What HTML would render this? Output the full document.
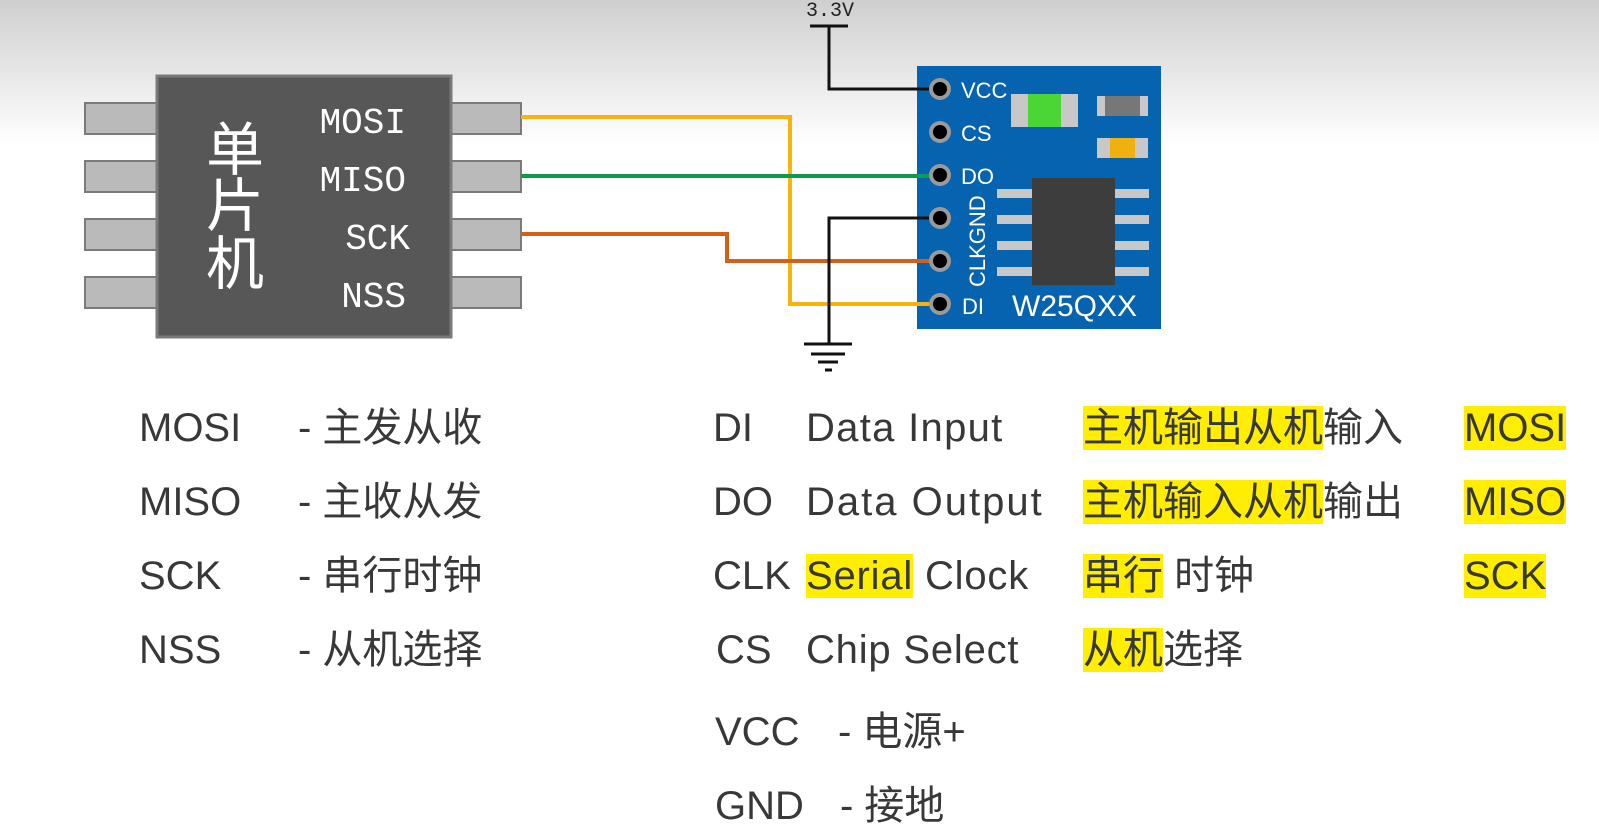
<!DOCTYPE html>
<html><head><meta charset="utf-8"><style>
html,body{margin:0;padding:0}
body{width:1599px;height:830px;position:relative;overflow:hidden;background:linear-gradient(#cfcfcf 0px,#e6e6e6 70px,#fff 145px,#fff 830px);font-family:"Liberation Sans","Noto Sans CJK SC",sans-serif}
.t{position:absolute;font-size:40px;color:#383838;line-height:48px;white-space:nowrap}
.l{letter-spacing:1.3px}
.h{background:#ffee00}
</style></head><body>
<svg width="1599" height="380" style="position:absolute;left:0;top:0">
<g fill="#bababa" stroke="#7a7a7a" stroke-width="2">
<rect x="85" y="103" width="72" height="31"/><rect x="85" y="161" width="72" height="31"/>
<rect x="85" y="219" width="72" height="31"/><rect x="85" y="277" width="72" height="31"/>
<rect x="450" y="103" width="71" height="31"/><rect x="450" y="161" width="71" height="31"/>
<rect x="450" y="219" width="71" height="31"/><rect x="450" y="277" width="71" height="31"/>
</g>
<rect x="157" y="76" width="294" height="261" fill="#575757" stroke="#7a7a7a" stroke-width="3"/>
<text x="235" y="170" fill="#fff" font-size="58" text-anchor="middle" font-family="Noto Sans CJK SC,sans-serif">单</text>
<text x="235" y="226" fill="#fff" font-size="58" text-anchor="middle" font-family="Noto Sans CJK SC,sans-serif">片</text>
<text x="235" y="284" fill="#fff" font-size="58" text-anchor="middle" font-family="Noto Sans CJK SC,sans-serif">机</text>
<g fill="#fff" font-size="36" font-family="Liberation Mono,monospace" text-anchor="end">
<text x="406" y="133">MOSI</text><text x="406" y="191">MISO</text><text x="410" y="249">SCK</text><text x="406" y="307">NSS</text></g>
<rect x="917" y="66" width="244" height="263" fill="#0563b0"/>
<g fill="#c8c8c8"><rect x="1011" y="94" width="67" height="33"/><rect x="1097" y="96" width="51" height="20"/><rect x="1097" y="138" width="51" height="20"/></g>
<rect x="1028" y="94" width="33" height="33" fill="#4cd636"/>
<rect x="1105" y="96" width="35" height="20" fill="#777"/>
<rect x="1110" y="138" width="25" height="20" fill="#f0b010"/>
<g fill="#c8c8c8"><rect x="997" y="189" width="36" height="9"/><rect x="997" y="215" width="36" height="9"/><rect x="997" y="241" width="36" height="9"/><rect x="997" y="267" width="36" height="9"/>
<rect x="1114" y="189" width="35" height="9"/><rect x="1114" y="215" width="35" height="9"/><rect x="1114" y="241" width="35" height="9"/><rect x="1114" y="267" width="35" height="9"/></g>
<rect x="1032" y="178" width="83" height="107" fill="#3d3d3d"/>
<g fill="#fff" font-size="22"><text x="961" y="98">VCC</text><text x="961" y="141">CS</text><text x="961" y="184">DO</text><text x="962" y="314">DI</text></g>
<text transform="translate(985,287) rotate(-90)" fill="#fff" font-size="22">CLKGND</text>
<text x="1012" y="316" fill="#fff" font-size="30">W25QXX</text>
<g fill="none" stroke-width="4">
<polyline points="521,117 790,117 790,304 940,304" stroke="#f8b40c"/>
<polyline points="521,176 940,176" stroke="#0d9a4f"/>
<polyline points="521,234 727,234 727,261 940,261" stroke="#d2601a"/>
</g>
<g fill="none" stroke="#111" stroke-width="3">
<polyline points="810,26 848,26"/><polyline points="829,26 829,89 940,89"/>
<polyline points="940,218 829,218 829,344"/>
<line x1="804" y1="344" x2="852" y2="344"/><line x1="811" y1="354" x2="845" y2="354"/><line x1="818" y1="362" x2="838" y2="362"/><line x1="825" y1="370" x2="832" y2="370"/>
</g>
<text x="806" y="16" font-size="20" fill="#222" font-family="Liberation Mono,monospace">3.3V</text>
<g><circle cx="940" cy="89" r="11" fill="#9a9a9a"/><circle cx="940" cy="132" r="11" fill="#9a9a9a"/><circle cx="940" cy="175" r="11" fill="#9a9a9a"/><circle cx="940" cy="218" r="11" fill="#9a9a9a"/><circle cx="940" cy="261" r="11" fill="#9a9a9a"/><circle cx="940" cy="304" r="11" fill="#9a9a9a"/></g>
<g fill="#000"><circle cx="940" cy="89" r="7"/><circle cx="940" cy="132" r="7"/><circle cx="940" cy="175" r="7"/><circle cx="940" cy="218" r="7"/><circle cx="940" cy="261" r="7"/><circle cx="940" cy="304" r="7"/></g>
</svg>
<div class="t" style="left:139px;top:404px">MOSI</div><div class="t" style="left:298px;top:404px">- 主发从收</div>
<div class="t" style="left:139px;top:478px">MISO</div><div class="t" style="left:298px;top:478px">- 主收从发</div>
<div class="t" style="left:139px;top:552px">SCK</div><div class="t" style="left:298px;top:552px">- 串行时钟</div>
<div class="t" style="left:139px;top:626px">NSS</div><div class="t" style="left:298px;top:626px">- 从机选择</div>
<div class="t" style="left:713px;top:404px">DI</div><div class="t l" style="left:806px;top:404px">Data Input</div>
<div class="t" style="left:713px;top:478px">DO</div><div class="t l" style="left:806px;top:478px;letter-spacing:2px">Data Output</div>
<div class="t" style="left:713px;top:552px">CLK</div><div class="t l" style="left:806px;top:552px;letter-spacing:0.8px"><span class="h">Serial</span> Clock</div>
<div class="t" style="left:716px;top:626px">CS</div><div class="t l" style="left:806px;top:626px;letter-spacing:0.8px">Chip Select</div>
<div class="t" style="left:1083px;top:404px"><span class="h">主机输出从机</span>输入</div>
<div class="t" style="left:1083px;top:478px"><span class="h">主机输入从机</span>输出</div>
<div class="t" style="left:1083px;top:552px"><span class="h">串行</span> 时钟</div>
<div class="t" style="left:1083px;top:626px"><span class="h">从机</span>选择</div>
<div class="t" style="left:1464px;top:404px"><span class="h">MOSI</span></div>
<div class="t" style="left:1464px;top:478px"><span class="h">MISO</span></div>
<div class="t" style="left:1464px;top:552px"><span class="h">SCK</span></div>
<div class="t" style="left:715px;top:708px">VCC</div><div class="t" style="left:838px;top:708px">- 电源+</div>
<div class="t" style="left:715px;top:782px">GND</div><div class="t" style="left:840px;top:782px">- 接地</div>
</body></html>
